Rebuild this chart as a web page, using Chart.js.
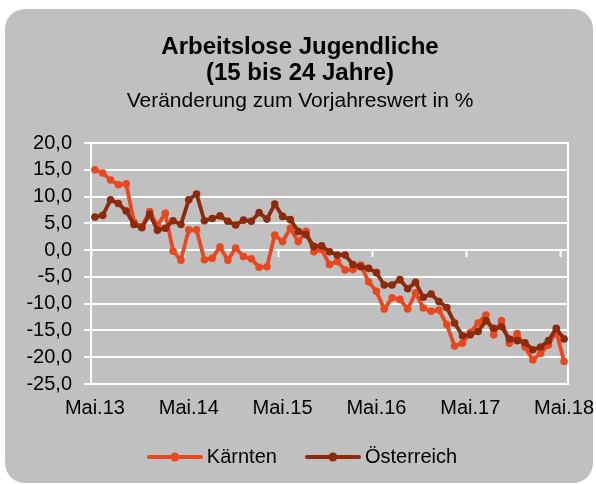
<!DOCTYPE html>
<html><head><meta charset="utf-8">
<script src="https://cdn.jsdelivr.net/npm/chart.js@4.4.0/dist/chart.umd.min.js"></script>
<style>
html,body{margin:0;padding:0;background:#fff;}
#wrap{position:relative;width:596px;height:484px;overflow:hidden;}
#bg{position:absolute;left:5px;top:9px;width:588px;height:474px;background:#C0C0C0;border-radius:20px;}
canvas{position:absolute;left:0;top:0;}
</style></head><body>
<div id="wrap"><div id="bg"></div><canvas id="c" width="596" height="484"></canvas></div>
<script>
// Month names starting at May, years 2013..2018
const monthNames = ['Mai','Jun','Jul','Aug','Sep','Okt','Nov','Dez','Jän','Feb','Mär','Apr'];
const firstYear = 13;
const monthCount = 61;
const labels = [];
for (let i = 0; i < monthCount; i++) {
  labels.push(monthNames[i % 12] + '.' + (firstYear + Math.floor((i + 4) / 12)));
}

const kaernten = [15.0, 14.4, 13.1, 12.2, 12.4, 5.2, 4.4, 7.2, 4.6, 6.9, -0.2, -1.9,
  3.8, 3.8, -1.8, -1.5, 0.6, -1.9, 0.4, -1.2, -1.6, -3.2, -3.1, 2.8,
  1.6, 4.1, 1.6, 3.5, -0.3, 0.1, -2.7, -2.1, -3.7, -3.6, -2.8, -5.9,
  -7.7, -11.0, -8.9, -9.2, -11.0, -8.0, -10.8, -11.4, -11.2, -13.9, -17.9, -17.4,
  -15.4, -13.6, -12.1, -15.8, -13.2, -17.4, -15.6, -18.1, -20.5, -19.3, -17.7, -15.2,
  -20.8];

const oesterreich = [6.2, 6.5, 9.4, 8.7, 7.3, 4.8, 4.2, 6.7, 3.7, 4.1, 5.5, 4.8,
  9.4, 10.5, 5.5, 5.9, 6.4, 5.4, 4.7, 5.6, 5.4, 7.0, 5.8, 8.6,
  6.3, 5.7, 3.5, 2.9, 0.7, 0.8, -0.3, -0.9, -0.9, -2.7, -3.1, -3.4,
  -4.2, -6.5, -6.5, -5.5, -7.2, -6.0, -8.8, -8.2, -9.6, -10.7, -13.6, -16.0,
  -15.8, -15.2, -13.2, -14.6, -14.3, -16.6, -16.9, -17.3, -18.6, -18.1, -16.9, -14.6,
  -16.6];

const seriesNames = ['Kärnten', 'Österreich'];
const colKaernten = '#E8481F';
const colOesterreich = '#8C2A0E';

const FONT = "'Liberation Sans', Arial, Helvetica, sans-serif";
Chart.defaults.font.family = FONT;
Chart.defaults.color = '#000';

function legendIcon(color) {
  const c = document.createElement('canvas');
  c.width = 66; c.height = 12;
  const g = c.getContext('2d');
  g.strokeStyle = color; g.lineWidth = 4; g.lineCap = 'round';
  g.beginPath(); g.moveTo(12, 6); g.lineTo(64, 6); g.stroke();
  g.fillStyle = color;
  g.beginPath(); g.arc(38, 6, 4.5, 0, Math.PI * 2); g.fill();
  return c;
}
const icons = [legendIcon(colOesterreich), legendIcon(colKaernten)];

new Chart(document.getElementById('c'), {
  type: 'line',
  data: {
    labels: labels,
    datasets: [
      { label: seriesNames[1], data: oesterreich, borderColor: colOesterreich, backgroundColor: colOesterreich,
        borderWidth: 3.8, pointRadius: 3.8, pointBorderWidth: 0, pointBackgroundColor: colOesterreich, tension: 0, fill: false },
      { label: seriesNames[0], data: kaernten, borderColor: colKaernten, backgroundColor: colKaernten,
        borderWidth: 3.8, pointRadius: 3.8, pointBorderWidth: 0, pointBackgroundColor: colKaernten, tension: 0, fill: false }
    ]
  },
  options: {
    responsive: false,
    devicePixelRatio: 1,
    animation: false,
    events: [],
    layout: { padding: { left: 20, right: 16, top: 0, bottom: 7 } },
    plugins: {
      title: {
        display: true,
        text: ['Arbeitslose Jugendliche', '(15 bis 24 Jahre)'],
        color: '#000',
        font: { family: FONT, size: 24, weight: 'bold', lineHeight: 1.12 },
        padding: { top: 33.5, bottom: 0 }
      },
      subtitle: {
        display: true,
        text: 'Veränderung zum Vorjahreswert in %',
        color: '#000',
        font: { family: FONT, size: 21, weight: 'normal', lineHeight: 1.2 },
        padding: { top: 1, bottom: 29.6 }
      },
      legend: {
        display: true,
        position: 'bottom',
        align: 'center',
        labels: {
          usePointStyle: true,
          pointStyleWidth: 54,
          boxHeight: 20,
          padding: 24,
          color: '#000',
          font: { family: FONT, size: 20 },
          generateLabels: (chart) => [1, 0].map(i => {
            const ds = chart.data.datasets[i];
            return { text: ds.label, pointStyle: icons[i], fillStyle: ds.borderColor,
                     strokeStyle: ds.borderColor, lineWidth: 0, hidden: false, datasetIndex: i, fontColor: '#000' };
          })
        }
      },
      tooltip: { enabled: false }
    },
    scales: {
      x: {
        type: 'category',
        offset: true,
        grid: { display: true, drawOnChartArea: false, drawTicks: true, tickLength: 12, tickColor: 'rgba(0,0,0,0)', offset: true },
        border: { display: true, color: '#fff', width: 2 },
        ticks: {
          autoSkip: false, maxRotation: 0, minRotation: 0, padding: 0, color: '#000',
          font: { family: FONT, size: 20 },
          callback: (v, i) => (i % 12 === 0 ? labels[i] : '')
        },
        afterFit: (s) => { s.height = 39; }
      },
      x0: {
        type: 'category',
        axis: 'x',
        position: { y: 0 },
        offset: true,
        ticks: { display: false },
        grid: {
          display: true, drawOnChartArea: false, drawTicks: true, tickLength: 6, offset: true, tickWidth: 2,
          tickColor: (ctx) => (ctx.index % 12 === 0 ? '#fff' : 'rgba(0,0,0,0)')
        },
        border: { display: true, color: '#fff', width: 2 }
      },
      y: {
        min: -25, max: 20,
        ticks: {
          stepSize: 5, padding: 12, color: '#000', autoSkip: false,
          font: { family: FONT, size: 20 },
          callback: (v) => v.toFixed(1).replace('.', ',')
        },
        grid: { color: '#fff', lineWidth: 2, drawTicks: true, tickLength: 7, tickColor: '#fff' },
        border: { display: true, color: '#fff', width: 2 },
        afterFit: (s) => { s.width = 71; }
      },
      y2: {
        position: 'right',
        min: 0, max: 1,
        ticks: { display: false },
        grid: { display: false, drawTicks: false },
        border: { display: true, color: '#fff', width: 2 },
        afterFit: (s) => { s.width = 12; }
      }
    }
  }
});
</script>
</body></html>
